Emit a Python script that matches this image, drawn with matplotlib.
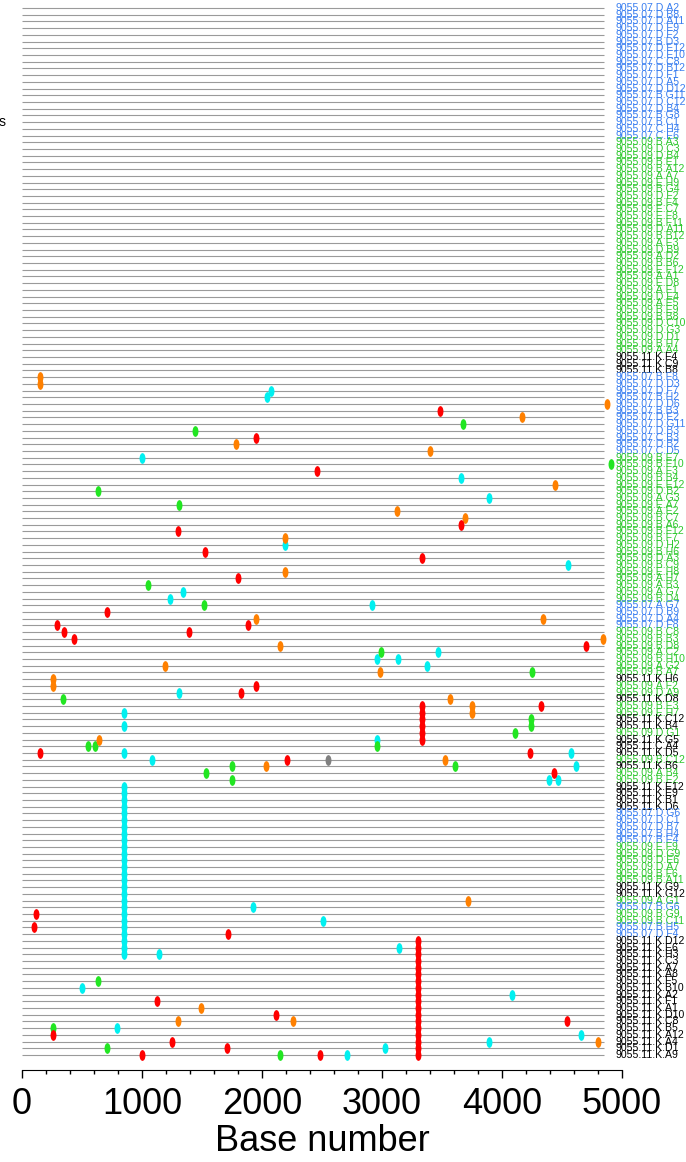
import numpy as np
import matplotlib.pyplot as plt
from matplotlib.path import Path
from matplotlib.transforms import Affine2D
from matplotlib.ticker import MultipleLocator

# SAMPLES (top to bottom)
samples = [
    "9055.07.D.A2", "9055.07.D.B8", "9055.07.D.A11", "9055.07.D.E9", "9055.07.D.F2",
    "9055.07.B.D3", "9055.07.D.E12", "9055.07.D.E10", "9055.07.C.C8", "9055.07.D.B12",
    "9055.07.D.F1", "9055.07.D.A5", "9055.07.D.D12", "9055.07.B.G11", "9055.07.D.C12",
    "9055.07.D.B4", "9055.07.B.G8", "9055.07.B.C1", "9055.07.C.H4", "9055.07.C.E6",
    "9055.09.B.A3", "9055.09.D.C3", "9055.09.D.B4", "9055.09.B.E1", "9055.09.B.A12",
    "9055.09.A.A7", "9055.09.E.H9", "9055.09.B.G4", "9055.09.D.F2", "9055.09.B.F4",
    "9055.09.E.C7", "9055.09.E.F8", "9055.09.B.F11", "9055.09.D.A11", "9055.09.B.B12",
    "9055.09.A.E3", "9055.09.D.B9", "9055.09.A.D2", "9055.09.B.B6", "9055.09.E.F12",
    "9055.09.A.A1", "9055.09.E.D8", "9055.09.A.F1", "9055.09.D.E4", "9055.09.A.E5",
    "9055.09.B.E9", "9055.09.B.B8", "9055.09.D.C10", "9055.09.D.G3", "9055.09.D.D1",
    "9055.09.B.H7", "9055.09.A.A4", "9055.11.K.F4", "9055.11.K.C9", "9055.11.K.B8",
    "9055.07.B.F8", "9055.07.D.D3", "9055.07.D.F7", "9055.07.B.H2", "9055.07.D.D6",
    "9055.07.B.B3", "9055.07.D.E2", "9055.07.D.G11", "9055.07.D.B3", "9055.07.C.B3",
    "9055.07.D.B2", "9055.07.C.D5", "9055.09.B.E7", "9055.09.B.F10", "9055.09.A.F3",
    "9055.09.B.B4", "9055.09.E.E12", "9055.09.D.B2", "9055.09.A.G3", "9055.09.E.A7",
    "9055.09.A.E2", "9055.09.B.C7", "9055.09.B.A6", "9055.09.B.F12", "9055.09.B.F7",
    "9055.09.D.H2", "9055.09.B.H6", "9055.09.D.A3", "9055.09.B.C9", "9055.09.E.H8",
    "9055.09.A.H7", "9055.09.A.B3", "9055.09.A.G7", "9055.09.B.D4", "9055.07.A.G7",
    "9055.07.D.B9", "9055.07.D.A4", "9055.07.D.F8", "9055.09.B.C8", "9055.09.B.B3",
    "9055.09.B.D8", "9055.09.A.C2", "9055.09.B.H10", "9055.09.A.G2", "9055.09.B.A7",
    "9055.11.K.H6", "9055.09.A.F2", "9055.09.D.A9", "9055.11.K.D8", "9055.09.B.E3",
    "9055.09.E.H7", "9055.11.K.C12", "9055.11.K.B4", "9055.09.D.G1", "9055.11.K.G5",
    "9055.11.C.A4", "9055.11.K.D5", "9055.09.B.C12", "9055.11.K.B6", "9055.09.A.B4",
    "9055.09.B.E2", "9055.11.K.E12", "9055.11.K.E9", "9055.11.K.B1", "9055.11.K.D6",
    "9055.07.D.G6", "9055.07.D.C1", "9055.07.D.B7", "9055.07.B.H4", "9055.07.B.E4",
    "9055.09.E.F9", "9055.09.D.G9", "9055.09.D.E6", "9055.09.D.A7", "9055.09.B.F6",
    "9055.09.B.A11", "9055.11.K.G9", "9055.11.K.G12", "9055.09.A.G1", "9055.07.B.G6",
    "9055.09.B.G9", "9055.09.B.C11", "9055.07.B.H5", "9055.07.D.F4", "9055.11.K.D12",
    "9055.11.K.E6", "9055.11.K.H3", "9055.11.K.C3", "9055.11.K.A7", "9055.11.K.A8",
    "9055.11.K.F5", "9055.11.K.B10", "9055.11.K.A2", "9055.11.K.F1", "9055.11.K.A1",
    "9055.11.K.D10", "9055.11.K.C8", "9055.11.K.B5", "9055.11.K.A12", "9055.11.K.A4",
    "9055.11.K.D1", "9055.11.K.A9",
]

# MUTATIONS BY CLASS (sample, base number)
red_samples = [
    "9055.07.B.B3", "9055.07.C.B3", "9055.09.A.F3", "9055.09.B.A6", "9055.09.B.F12",
    "9055.09.B.H6", "9055.09.D.A3", "9055.09.A.H7", "9055.07.D.B9", "9055.07.D.F8",
    "9055.07.D.F8", "9055.09.B.C8", "9055.09.B.C8", "9055.09.B.B3", "9055.09.B.D8",
    "9055.09.A.F2", "9055.09.D.A9", "9055.09.B.E3", "9055.11.K.D5", "9055.11.K.D5",
    "9055.09.B.C12", "9055.09.A.B4", "9055.09.B.G9", "9055.07.B.H5", "9055.07.D.F4",
    "9055.11.K.F1", "9055.11.K.D10", "9055.11.K.C8", "9055.11.K.A12", "9055.11.K.A4",
    "9055.11.K.D1", "9055.11.K.A9", "9055.11.K.A9",
]
red_pos = [
    3483, 1950, 2458, 3658, 1300,
    1525, 3333, 1800, 708, 292,
    1883, 350, 1392, 433, 4700,
    1950, 1825, 4325, 150, 4233,
    2208, 4433, 117, 100, 1717,
    1125, 2117, 4542, 258, 1250,
    1708, 1000, 2485,
]

orange_samples = [
    "9055.07.B.F8", "9055.07.D.D3", "9055.07.D.D6", "9055.07.D.E2", "9055.07.D.B2",
    "9055.07.C.D5", "9055.09.E.E12", "9055.09.A.E2", "9055.09.B.C7", "9055.09.B.F7",
    "9055.09.E.H8", "9055.07.D.A4", "9055.07.D.A4", "9055.09.B.B3", "9055.09.B.D8",
    "9055.09.A.G2", "9055.09.B.A7", "9055.11.K.H6", "9055.09.A.F2", "9055.11.K.D8",
    "9055.09.B.E3", "9055.09.E.H7", "9055.11.K.G5", "9055.09.B.C12", "9055.11.K.B6",
    "9055.09.A.G1", "9055.11.K.A1", "9055.11.K.C8", "9055.11.K.C8", "9055.11.K.A4",
]
orange_pos = [
    150, 150, 4875, 4167, 1783,
    3400, 4442, 3125, 3692, 2192,
    2192, 1950, 4342, 4842, 2150,
    1192, 2983, 258, 258, 3567,
    3750, 3750, 642, 3525, 2033,
    3717, 1492, 1300, 2258, 4800,
]

green_samples = [
    "9055.07.D.G11", "9055.07.D.B3", "9055.09.B.F10", "9055.09.D.B2", "9055.09.E.A7",
    "9055.09.A.B3", "9055.07.A.G7", "9055.09.A.C2", "9055.09.B.A7", "9055.11.K.D8",
    "9055.11.K.C12", "9055.11.K.B4", "9055.09.D.G1", "9055.11.C.A4", "9055.11.C.A4",
    "9055.11.C.A4", "9055.11.K.B6", "9055.11.K.B6", "9055.09.A.B4", "9055.09.B.E2",
    "9055.11.K.F5", "9055.11.K.B5", "9055.11.K.D1", "9055.11.K.A9",
]
green_pos = [
    3675, 1442, 4908, 633, 1308,
    1050, 1517, 2992, 4250, 342,
    4242, 4242, 4108, 550, 608,
    2958, 1750, 3608, 1533, 1750,
    633, 258, 708, 2150,
]

cyan_samples = [
    "9055.07.D.F7", "9055.07.B.H2", "9055.09.B.E7", "9055.09.B.B4", "9055.09.A.G3",
    "9055.09.D.H2", "9055.09.B.C9", "9055.09.A.G7", "9055.09.B.D4", "9055.07.A.G7",
    "9055.09.A.C2", "9055.09.B.H10", "9055.09.B.H10", "9055.09.A.G2", "9055.09.D.A9",
    "9055.09.E.H7", "9055.11.K.B4", "9055.11.K.G5", "9055.11.K.D5", "9055.11.K.D5",
    "9055.09.B.C12", "9055.11.K.B6", "9055.09.B.E2", "9055.09.B.E2", "9055.07.B.G6",
    "9055.09.B.C11", "9055.11.K.E6", "9055.11.K.H3", "9055.11.K.B10", "9055.11.K.A2",
    "9055.11.K.B5", "9055.11.K.A12", "9055.11.K.A4", "9055.11.K.D1", "9055.11.K.A9",
]
cyan_pos = [
    2075, 2042, 1000, 3658, 3892,
    2192, 4550, 1342, 1233, 2917,
    3467, 2958, 3133, 3375, 1308,
    850, 850, 2958, 850, 4575,
    1083, 4617, 4392, 4467, 1925,
    2508, 3142, 1142, 500, 4083,
    792, 4658, 3890, 3025, 2705,
]

gray_samples = ["9055.09.B.C12"]
gray_pos = [2550]

# SHARED MUTATIONS (same base in a run of consecutive samples)
shared_pos = [850, 3300, 3333]
shared_kind = ["cyan", "red", "red"]
shared_from = ["9055.11.K.E12", "9055.11.K.D12", "9055.09.B.E3"]
shared_to = ["9055.11.K.H3", "9055.11.K.A9", "9055.11.K.G5"]

kind_colors = {"red": "#ff0000", "orange": "#ff8000", "green": "#22e622",
               "cyan": "#00f0f0", "gray": "#808080"}
group_colors = {"9055.07": "#3a7ff0", "9055.09": "#2ec82e", "9055.11": "#000000"}

row = {s: i for i, s in enumerate(samples)}
n = len(samples)

fig = plt.figure(figsize=(6.86, 11.62), dpi=100)
ax = fig.add_axes([22 / 686, 1 - 1070 / 1162, 600 / 686, 1070 / 1162])
ax.set_xlim(0, 5000)
ax.set_ylim(156 + 15 / 6.71, -8 / 6.71)

ax.hlines(np.arange(n), 0, 4850, color="#9a9a9a", lw=0.8, zorder=1)

# elliptic dot marker
ell = Path.unit_circle().transformed(Affine2D().scale(0.55, 1.0))

groups = [
    ("cyan", cyan_samples, cyan_pos),
    ("gray", gray_samples, gray_pos),
    ("green", green_samples, green_pos),
    ("orange", orange_samples, orange_pos),
    ("red", red_samples, red_pos),
]
for p, k, a, b in zip(shared_pos, shared_kind, shared_from, shared_to):
    rr = np.arange(row[a], row[b] + 1)
    ax.scatter(np.full(len(rr), p), rr, color=kind_colors[k], marker=ell,
               s=60, linewidths=0, zorder=3)
for k, ss, pp in groups:
    ax.scatter(pp, [row[s] for s in ss], color=kind_colors[k], marker=ell,
               s=60, linewidths=0, zorder=3)

for i, s in enumerate(samples):
    ax.text(4942, i, s, color=group_colors[s[:7]], fontsize=7.6,
            family="Liberation Sans", va="center", ha="left", clip_on=False)

fig.text(6 / 686, 1 - 126 / 1162, "Samples", ha="right", va="baseline",
         fontsize=10, family="Liberation Sans")

for sp in ["top", "left", "right"]:
    ax.spines[sp].set_visible(False)
ax.spines["bottom"].set_bounds(0, 5000)
ax.set_yticks([])
ax.set_xticks(range(0, 5001, 1000))
ax.xaxis.set_minor_locator(MultipleLocator(200))
ax.tick_params(axis="x", which="major", length=6, width=1, labelsize=26, pad=6)
ax.tick_params(axis="x", which="minor", length=3, width=1)
for t in ax.get_xticklabels():
    t.set_family("Liberation Sans")
ax.set_xlabel("Base number", fontsize=26, family="Liberation Sans", labelpad=2)

fig.savefig("out.png", dpi=100)
